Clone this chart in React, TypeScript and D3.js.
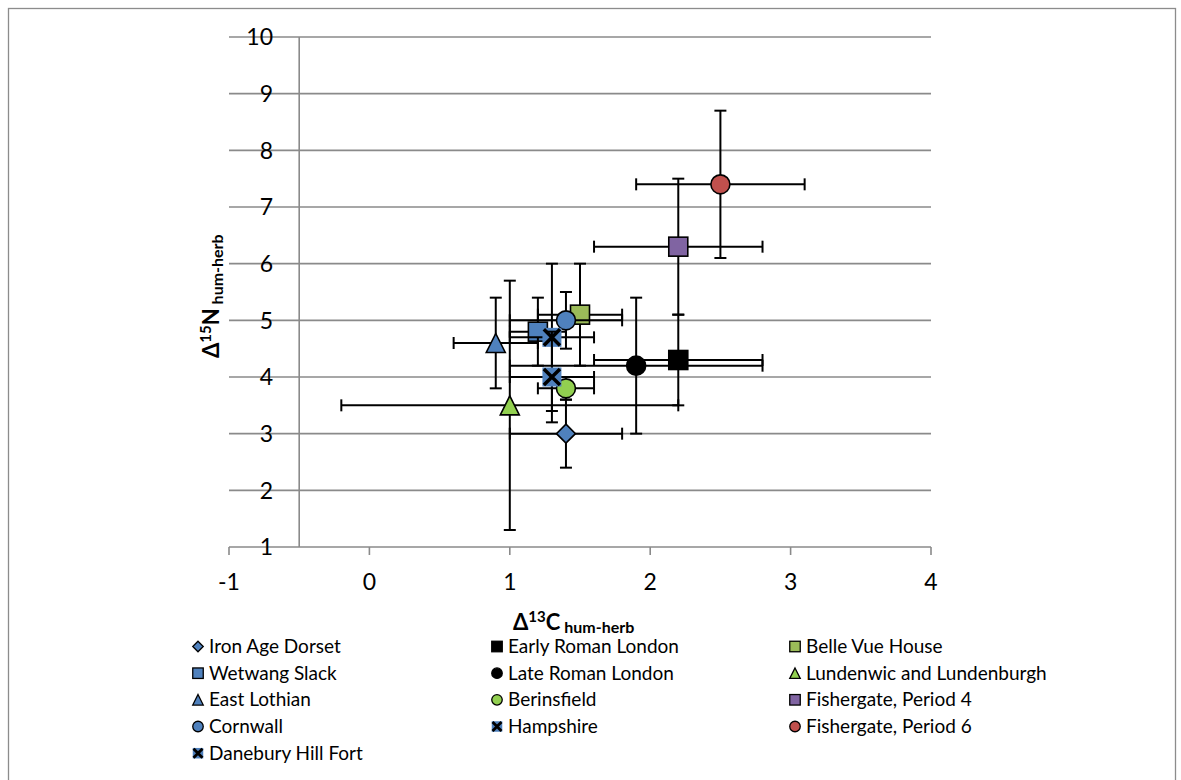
import React from "react";
import * as d3 from "d3";

// ---- data ----
const seriesNames = [
  "Iron Age Dorset",
  "Early Roman London",
  "Belle Vue House",
  "Wetwang Slack",
  "Late Roman London",
  "Lundenwic and Lundenburgh",
  "East Lothian",
  "Berinsfield",
  "Fishergate, Period 4",
  "Cornwall",
  "Hampshire",
  "Fishergate, Period 6",
  "Danebury Hill Fort",
];
const deltaC = [1.4, 2.2, 1.5, 1.2, 1.9, 1.0, 0.9, 1.4, 2.2, 1.4, 1.3, 2.5, 1.3];
const deltaN = [3.0, 4.3, 5.1, 4.8, 4.2, 3.5, 4.6, 3.8, 6.3, 5.0, 4.7, 7.4, 4.0];
const errC = [0.4, 0.6, 0.3, 0.2, 0.9, 1.2, 0.3, 0.2, 0.6, 0.4, 0.3, 0.6, 0.3];
const errN = [0.6, 0.8, 0.9, 0.6, 1.2, 2.2, 0.8, 0.2, 1.2, 0.5, 1.3, 1.3, 0.8];
const xTicks = [-1, 0, 1, 2, 3, 4];
const yTicks = [1, 2, 3, 4, 5, 6, 7, 8, 9, 10];

// ---- styles ----
const markerShapes = [
  "diamond", "square", "square", "square", "circle", "triangle", "triangle",
  "circle", "square", "circle", "x", "circle", "x",
];
const markerColors = [
  "#4F81BD", "#000000", "#9BBB59", "#4F81BD", "#000000", "#92D050", "#4F81BD",
  "#92D050", "#8064A2", "#4F81BD", "#4F81BD", "#C0504D", "#4F81BD",
];

const W = 1181;
const H = 780;
const FONT = "Lato, 'Open Sans', sans-serif";
const GRID = "#8a8a8a";

const x = d3.scaleLinear().domain([-1, 4]).range([229, 931]);
const y = d3.scaleLinear().domain([1, 10]).range([547, 37]);

function Marker({ shape, color, cx, cy, s }: { shape: string; color: string; cx: number; cy: number; s: number }) {
  const h = s / 2;
  const sw = s > 14 ? 1.6 : 1.3;
  if (shape === "square") {
    return <rect x={cx - h} y={cy - h} width={s} height={s} fill={color} stroke="#000" strokeWidth={sw} />;
  }
  if (shape === "circle") {
    return <circle cx={cx} cy={cy} r={h} fill={color} stroke="#000" strokeWidth={sw} />;
  }
  if (shape === "diamond") {
    const p = `M${cx},${cy - h}L${cx + h},${cy}L${cx},${cy + h}L${cx - h},${cy}Z`;
    return <path d={p} fill={color} stroke="#000" strokeWidth={sw} />;
  }
  if (shape === "triangle") {
    const p = `M${cx},${cy - h}L${cx + h},${cy + h}L${cx - h},${cy + h}Z`;
    return <path d={p} fill={color} stroke="#000" strokeWidth={sw} strokeLinejoin="miter" />;
  }
  // x marker with fill
  const k = h * 0.85;
  return (
    <g>
      <rect x={cx - h} y={cy - h} width={s} height={s} fill={color} />
      <path
        d={`M${cx - k},${cy - k}L${cx + k},${cy + k}M${cx + k},${cy - k}L${cx - k},${cy + k}`}
        stroke="#000"
        strokeWidth={s > 14 ? 3.5 : 2.8}
      />
    </g>
  );
}

export default function App() {
  const cap = 6;
  const legendColX = [198, 497, 795];
  const legendRowY = [653, 679.7, 706.3, 733, 759.7];

  return (
    <svg
      width={W}
      height={H}
      style={{ position: "absolute", left: 0, top: 0, background: "#fff" }}
      fontFamily={FONT}
    >
      <rect x={0} y={0} width={W} height={H} fill="#fff" />
      {/* chart border */}
      <rect x={8.5} y={8.5} width={1167} height={800} fill="none" stroke="#8c8c8c" strokeWidth={1.3} />

      {/* gridlines */}
      {yTicks.filter((t) => t > 1).map((t) => (
        <line key={"g" + t} x1={x(-1)} x2={x(4)} y1={y(t)} y2={y(t)} stroke={GRID} strokeWidth={1.6} />
      ))}
      {/* y axis line at x=-0.5 */}
      <line x1={x(-0.5)} x2={x(-0.5)} y1={y(10)} y2={y(1)} stroke={GRID} strokeWidth={1.6} />
      {/* x axis line */}
      <line x1={x(-1)} x2={x(4)} y1={y(1)} y2={y(1)} stroke={GRID} strokeWidth={1.6} />
      {xTicks.map((t) => (
        <line key={"xt" + t} x1={x(t)} x2={x(t)} y1={y(1)} y2={y(1) + 8} stroke={GRID} strokeWidth={1.6} />
      ))}

      {/* tick labels */}
      {yTicks.map((t) => (
        <text key={"yl" + t} x={273} y={y(t)} dy="0.36em" textAnchor="end" fontSize={23} fill="#000">
          {t}
        </text>
      ))}
      {xTicks.map((t) => (
        <text key={"xl" + t} x={x(t)} y={590} textAnchor="middle" fontSize={23} fill="#000">
          {t}
        </text>
      ))}

      {/* axis titles */}
      <text x={513} y={630} fontSize={22} fontWeight="bold" fill="#000">
        <tspan>Δ</tspan>
        <tspan fontSize={15} dy={-8}>13</tspan>
        <tspan dy={8}>C</tspan>
        <tspan fontSize={16} dy={3}>{" hum-herb"}</tspan>
      </text>
      <text transform="translate(219,358) rotate(-90)" x={0} y={0} fontSize={22} fontWeight="bold" fill="#000">
        <tspan>Δ</tspan>
        <tspan fontSize={15} dy={-8}>15</tspan>
        <tspan dy={8}>N</tspan>
        <tspan fontSize={16} dy={4}>{" hum-herb"}</tspan>
      </text>

      {/* series */}
      {seriesNames.map((name, i) => {
        const cx = x(deltaC[i]);
        const cy = y(deltaN[i]);
        const x0 = x(deltaC[i] - errC[i]);
        const x1 = x(deltaC[i] + errC[i]);
        const y0 = y(deltaN[i] - errN[i]);
        const y1 = y(deltaN[i] + errN[i]);
        return (
          <g key={name}>
            <g stroke="#000" strokeWidth={2} fill="none">
              <line x1={x0} x2={x1} y1={cy} y2={cy} />
              <line x1={x0} x2={x0} y1={cy - cap} y2={cy + cap} />
              <line x1={x1} x2={x1} y1={cy - cap} y2={cy + cap} />
              <line x1={cx} x2={cx} y1={y0} y2={y1} />
              <line x1={cx - cap} x2={cx + cap} y1={y0} y2={y0} />
              <line x1={cx - cap} x2={cx + cap} y1={y1} y2={y1} />
            </g>
            <Marker shape={markerShapes[i]} color={markerColors[i]} cx={cx} cy={cy} s={19} />
          </g>
        );
      })}

      {/* legend */}
      {seriesNames.map((name, i) => {
        const col = i % 3;
        const row = Math.floor(i / 3);
        const lx = legendColX[col];
        const ly = legendRowY[row];
        return (
          <g key={"lg" + name}>
            <Marker shape={markerShapes[i]} color={markerColors[i]} cx={lx} cy={ly - 6.5} s={10.5} />
            <text x={lx + 11} y={ly} fontSize={19} fill="#000">
              {name}
            </text>
          </g>
        );
      })}
    </svg>
  );
}
